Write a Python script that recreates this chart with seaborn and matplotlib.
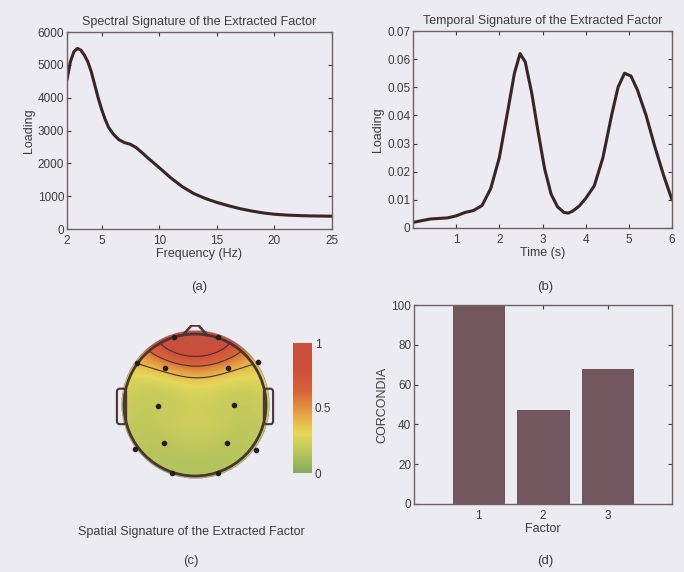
import numpy as np
import pandas as pd
import matplotlib
matplotlib.use("Agg")
import matplotlib.pyplot as plt
import seaborn as sns
from matplotlib.colors import LinearSegmentedColormap
from matplotlib.patches import Circle, FancyBboxPatch
from matplotlib.ticker import FuncFormatter

# ---------------- data ----------------
freq_hz = [2, 2.3, 2.6, 2.9, 3.2, 3.5, 3.8, 4.1, 4.4, 4.7, 5.0, 5.3, 5.6, 6.0, 6.5, 7.0,
           7.5, 8.0, 8.5, 9, 10, 11, 12, 13, 14, 15, 16, 17, 18, 19, 20, 21, 22, 23, 24, 25]
spectral_loading = [4550, 5100, 5400, 5500, 5450, 5300, 5100, 4800, 4400, 4000, 3650, 3350,
                    3100, 2900, 2720, 2630, 2580, 2480, 2330, 2170, 1870, 1560, 1290, 1080,
                    930, 810, 710, 620, 550, 490, 450, 425, 410, 400, 395, 390]

time_s = [0, 0.2, 0.4, 0.6, 0.8, 1.0, 1.2, 1.4, 1.6, 1.8, 2.0, 2.2, 2.35, 2.48, 2.6, 2.75,
          2.9, 3.05, 3.2, 3.35, 3.5, 3.6, 3.7, 3.85, 4.0, 4.2, 4.4, 4.6, 4.75, 4.9, 5.05,
          5.2, 5.4, 5.6, 5.8, 6.0]
temporal_loading = [0.002, 0.0026, 0.0032, 0.0034, 0.0036, 0.0043, 0.0055, 0.0062, 0.0080,
                    0.014, 0.025, 0.042, 0.055, 0.062, 0.059, 0.048, 0.034, 0.021, 0.012,
                    0.0075, 0.0055, 0.0053, 0.006, 0.0078, 0.0105, 0.015, 0.025, 0.040,
                    0.050, 0.055, 0.054, 0.049, 0.040, 0.029, 0.019, 0.010]

factors = [1, 2, 3]
corcondia = [100, 47, 68]

elec_names = ["Fp1", "Fp2", "F7", "F8", "F3", "F4", "T3", "T4", "C3", "C4",
              "P3", "P4", "T5", "T6", "O1", "O2"]
elec_x = [-0.30, 0.32, -0.82, 0.89, -0.42, 0.46, -0.99, 0.99, -0.52, 0.55,
          -0.44, 0.45, -0.85, 0.86, -0.32, 0.32]
elec_y = [0.96, 0.96, 0.59, 0.60, 0.52, 0.52, 0.0, 0.0, -0.01, 0.0,
          -0.54, -0.54, -0.62, -0.63, -0.96, -0.96]
elec_val = [1.0, 0.98, 0.40, 0.40, 0.46, 0.46, 0.22, 0.22, 0.20, 0.20,
            0.17, 0.17, 0.18, 0.18, 0.15, 0.15]
elec_marked = [True, True, True, True, True, True, False, False, True, True,
               True, True, True, True, True, True]

# ---------------- style ----------------
BG = "#ecebf2"
LINE = "#3a2426"
SPINE = "#6e6264"
TXT = "#3c3c3c"
sns.set_style("ticks")
plt.rcParams["font.family"] = ["Liberation Sans", "DejaVu Sans"]
plt.rcParams.update({
    "font.size": 8,
    "text.color": TXT,
    "axes.labelcolor": TXT,
    "xtick.color": TXT,
    "ytick.color": TXT,
    "axes.edgecolor": SPINE,
    "axes.linewidth": 1.0,
    "xtick.direction": "in",
    "ytick.direction": "in",
    "xtick.major.size": 3,
    "ytick.major.size": 3,
    "xtick.major.pad": 4,
    "ytick.major.pad": 2,
})

W, H = 684, 572
fig = plt.figure(figsize=(W / 100, H / 100), dpi=100, facecolor=BG)


def px_axes(x0, y0, x1, y1):
    return fig.add_axes([x0 / W, 1 - y1 / H, (x1 - x0) / W, (y1 - y0) / H])


def matlab_box(ax):
    ax.set_facecolor("none")
    ax.tick_params(top=True, right=True, labelsize=8.5, colors=TXT)
    for s in ax.spines.values():
        s.set_visible(True)
        s.set_color(SPINE)


gfmt = FuncFormatter(lambda v, p: f"{v:g}")

# (a) spectral
ax_a = px_axes(67, 32, 332, 229)
sns.lineplot(x=freq_hz, y=spectral_loading, ax=ax_a, color=LINE, linewidth=2.2)
ax_a.set_xlim(2, 25)
ax_a.set_ylim(0, 6000)
ax_a.set_xticks([2, 5, 10, 15, 20, 25])
ax_a.set_yticks(range(0, 6001, 1000))
ax_a.set_xlabel("Frequency (Hz)", fontsize=9, labelpad=1)
ax_a.set_ylabel("Loading", fontsize=9, labelpad=2)
ax_a.set_title("Spectral Signature of the Extracted Factor", fontsize=9, pad=5)
matlab_box(ax_a)
fig.text(199 / W, 1 - 287 / H, "(a)", ha="center", va="center", fontsize=9.5)

# (b) temporal
ax_b = px_axes(413, 31, 672, 228)
sns.lineplot(x=time_s, y=temporal_loading, ax=ax_b, color=LINE, linewidth=2.2)
ax_b.set_xlim(0, 6)
ax_b.set_ylim(0, 0.07)
ax_b.set_xticks([1, 2, 3, 4, 5, 6])
ax_b.set_yticks(np.arange(0, 0.0701, 0.01))
ax_b.yaxis.set_major_formatter(gfmt)
ax_b.set_xlabel("Time (s)", fontsize=9, labelpad=1)
ax_b.set_ylabel("Loading", fontsize=9, labelpad=2)
ax_b.set_title("Temporal Signature of the Extracted Factor", fontsize=9, pad=5)
matlab_box(ax_b)
fig.text(545 / W, 1 - 287 / H, "(b)", ha="center", va="center", fontsize=9.5)

# (d) corcondia bars
ax_d = px_axes(414, 305, 672, 504)
df_d = pd.DataFrame({"Factor": factors, "CORCONDIA": corcondia})
sns.barplot(data=df_d, x="Factor", y="CORCONDIA", native_scale=True, ax=ax_d,
            color="#74565e", saturation=1, width=0.8, edgecolor="#5e464c", linewidth=0.6)
ax_d.set_xlim(0, 4)
ax_d.set_ylim(0, 100)
ax_d.set_xticks([1, 2, 3])
ax_d.set_yticks(range(0, 101, 20))
ax_d.set_xlabel("Factor", fontsize=9, labelpad=1)
ax_d.set_ylabel("CORCONDIA", fontsize=9, labelpad=2)
matlab_box(ax_d)
fig.text(545 / W, 1 - 561 / H, "(d)", ha="center", va="center", fontsize=9.5)

# (c) topographic map
cmap = LinearSegmentedColormap.from_list("topo", [
    (0.00, "#86aa5e"), (0.15, "#b6c45c"), (0.30, "#e4d85a"), (0.42, "#e8b048"),
    (0.52, "#e08a3e"), (0.62, "#d8643a"), (0.80, "#cf4e3a"), (1.00, "#c8503f")])

cx, cy, r = 195, 405, 71
half = 80
ax_c = px_axes(cx - half, cy - half, cx + half, cy + half)
lim = half / r
ax_c.set_xlim(-lim, lim)
ax_c.set_ylim(-lim, lim)
ax_c.axis("off")

ex = np.array(elec_x)
ey = np.array(elec_y)
ev = np.array(elec_val)
# Gaussian radial-basis interpolation of the electrode values
sig = 0.6
base = ev.mean()
d = np.hypot(ex[:, None] - ex[None, :], ey[:, None] - ey[None, :])
K = np.exp(-(d / sig) ** 2)
w = np.linalg.solve(K + 1e-6 * np.eye(len(ev)), ev - base)
gx = np.linspace(-1.06, 1.06, 260)
GX, GY = np.meshgrid(gx, gx)
dd = np.hypot(GX[..., None] - ex, GY[..., None] - ey)
Z = base + np.exp(-(dd / sig) ** 2) @ w
Zm = np.ma.masked_where(np.hypot(GX, GY) > 1.04, Z)
im = ax_c.imshow(Zm, extent=[-1.06, 1.06, -1.06, 1.06], origin="lower", cmap=cmap,
                 vmin=0, vmax=1, interpolation="bilinear", zorder=1)
Zc = np.ma.masked_where(np.hypot(GX, GY) > 1.0, Z)
ax_c.contour(GX, GY, Zc, levels=[0.40, 0.6, 0.8], colors="#4a3030", linewidths=0.8, zorder=2)

hc = "#4a3434"
ax_c.add_patch(Circle((0, 0), 1.0, fill=False, ec=hc, lw=2.0, zorder=4))
ax_c.plot([-0.17, -0.05, 0.05, 0.17], [0.985, 1.12, 1.12, 0.985], color=hc, lw=1.8, zorder=4,
          solid_joinstyle="round")
for sgn in (-1, 1):
    ax_c.add_patch(FancyBboxPatch((sgn * 1.035 - 0.045, -0.25), 0.09, 0.46,
                                  boxstyle="round,pad=0.02,rounding_size=0.045",
                                  fill=False, ec=hc, lw=1.5, zorder=3))
mk = np.array(elec_marked)
ax_c.scatter(ex[mk], ey[mk], s=9, color="#2a1c1c", zorder=5)

cax = px_axes(293, 343, 312, 473)
cb = fig.colorbar(im, cax=cax, ticks=[0, 0.5, 1])
cb.outline.set_visible(False)
cb.ax.tick_params(length=0, labelsize=8.5, pad=2, colors=TXT)
cb.ax.yaxis.set_major_formatter(gfmt)

fig.text(191 / W, 1 - 532 / H, "Spatial Signature of the Extracted Factor",
         ha="center", va="center", fontsize=9)
fig.text(191 / W, 1 - 561 / H, "(c)", ha="center", va="center", fontsize=9.5)

fig.savefig("out.png", dpi=100, facecolor=BG)
